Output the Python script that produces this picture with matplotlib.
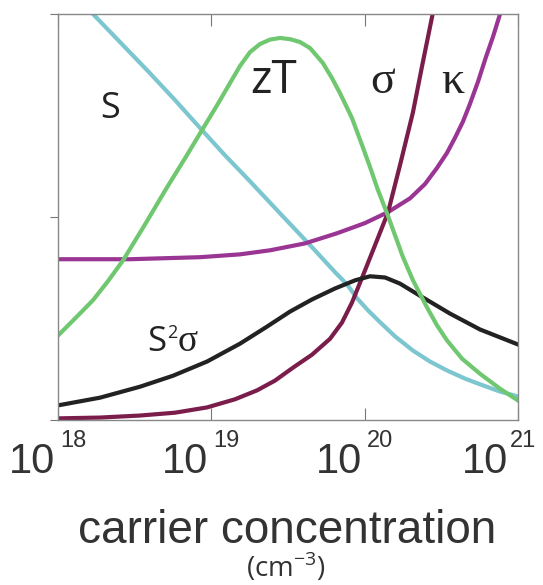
import numpy as np
import matplotlib.pyplot as plt
from matplotlib.transforms import ScaledTranslation

# thermoelectric trends vs carrier concentration (log10 n, normalized value)
S_logn = [18.228, 18.404, 18.600, 18.763, 18.939, 19.089, 19.252, 19.448,
          19.663, 19.807, 19.885, 19.950, 20.022, 20.100, 20.198, 20.315,
          20.426, 20.537, 20.654, 20.752, 20.883, 21.000]
S_val = [1.000, 0.931, 0.854, 0.788, 0.714, 0.652, 0.588, 0.509,
         0.423, 0.364, 0.334, 0.300, 0.270, 0.241, 0.206, 0.171,
         0.144, 0.122, 0.102, 0.088, 0.070, 0.058]

zT_logn = [18.000, 18.111, 18.228, 18.326, 18.424, 18.568, 18.711, 18.829,
           18.939, 19.037, 19.122, 19.187, 19.252, 19.317, 19.383, 19.448,
           19.513, 19.578, 19.644, 19.728, 19.787, 19.839, 19.917, 19.983,
           20.035, 20.087, 20.146, 20.198, 20.250, 20.315, 20.407, 20.472,
           20.537, 20.635, 20.752, 20.883, 21.000]
zT_val = [0.208, 0.250, 0.295, 0.342, 0.393, 0.482, 0.573, 0.645,
          0.714, 0.775, 0.830, 0.872, 0.906, 0.926, 0.937, 0.941,
          0.938, 0.931, 0.916, 0.879, 0.842, 0.805, 0.744, 0.677,
          0.623, 0.566, 0.509, 0.455, 0.401, 0.344, 0.277, 0.233,
          0.196, 0.151, 0.114, 0.077, 0.048]

sigma_logn = [18.000, 18.274, 18.535, 18.763, 18.972, 19.154, 19.298, 19.415,
              19.533, 19.657, 19.774, 19.852, 19.917, 19.989, 20.067, 20.152,
              20.230, 20.315, 20.374, 20.446]
sigma_val = [0.004, 0.006, 0.011, 0.018, 0.031, 0.051, 0.073, 0.097,
             0.129, 0.161, 0.200, 0.240, 0.289, 0.356, 0.430, 0.511,
             0.627, 0.758, 0.871, 1.005]

kappa_logn = [18.000, 18.470, 18.926, 19.187, 19.383, 19.611, 19.820, 20.002,
              20.152, 20.296, 20.393, 20.472, 20.537, 20.589, 20.641, 20.687,
              20.739, 20.791, 20.837, 20.883]
kappa_val = [0.396, 0.396, 0.401, 0.408, 0.418, 0.435, 0.460, 0.485,
             0.512, 0.546, 0.581, 0.621, 0.658, 0.695, 0.735, 0.779,
             0.833, 0.894, 0.944, 1.000]

pf_logn = [18.000, 18.274, 18.535, 18.750, 18.972, 19.187, 19.363, 19.513,
           19.657, 19.807, 19.937, 20.035, 20.133, 20.230, 20.361, 20.557,
           20.752, 21.000]
pf_val = [0.036, 0.055, 0.082, 0.109, 0.144, 0.188, 0.230, 0.267,
          0.297, 0.324, 0.344, 0.354, 0.351, 0.336, 0.306, 0.262,
          0.223, 0.186]

tick_exp = [18, 19, 20, 21]
tick_exp_labels = ['18', '19', '20', '21']

fig = plt.figure(figsize=(5.43, 5.85), dpi=100)
ax = fig.add_axes([58 / 543, 165 / 585, 460 / 543, 406 / 585])

lw = 3
ax.plot(10.0 ** np.array(S_logn), S_val, color='#7cc6cf', lw=lw)
ax.plot(10.0 ** np.array(kappa_logn), kappa_val, color='#9a3594', lw=lw)
ax.plot(10.0 ** np.array(sigma_logn), sigma_val, color='#7b1d4b', lw=lw)
ax.plot(10.0 ** np.array(pf_logn), pf_val, color='#222222', lw=lw)
ax.plot(10.0 ** np.array(zT_logn), zT_val, color='#6fc86f', lw=lw)

ax.set_xscale('log')
ax.set_xlim(1e18, 1e21)
ax.set_ylim(0, 1)
for sp in ax.spines.values():
    sp.set_color('#888888')
    sp.set_linewidth(1)

ticks = [10.0 ** e for e in tick_exp]
ax.set_xticks(ticks)
ax.xaxis.set_minor_locator(plt.NullLocator())
ax.set_xticklabels(['10'] * len(ticks), fontsize=30, family='Liberation Sans',
                   color='#333333', ha='right')
ax.tick_params(axis='x', which='major', direction='in', length=8.5, top=True,
               pad=15.5, color='#777777')
ax.set_yticks([0, 0.5, 1])
ax.set_yticklabels([])
ax.tick_params(axis='y', direction='out', length=6, color='#777777')

# shift the "10" parts; the last one sits a little further left
for i, lab in enumerate(ax.get_xticklabels()):
    dx = -3 if i < len(ticks) - 1 else -10
    lab.set_transform(lab.get_transform() + ScaledTranslation(dx / 100, 0, fig.dpi_scale_trans))

for t, e in zip(ticks, tick_exp_labels):
    dx = 1.5 if t < ticks[-1] else -5.5
    ax.annotate(e, xy=(t, 0), xycoords=('data', 'axes fraction'),
                xytext=(dx, -7.2), textcoords='offset points',
                ha='left', va='top', fontsize=17, family='Liberation Sans',
                color='#333333')

ax.set_xlabel('carrier concentration', fontsize=33, family='Liberation Sans',
              color='#333333', va='baseline')
ax.xaxis.set_label_coords(0.498, -(543 - 420) / 406)
fig.text(286 / 543, (585 - 577) / 585, r'(cm$^{\mathregular{-3}}$)',
         fontsize=20, family='Open Sans', color='#333333',
         ha='center', va='baseline')

# curve labels
ax.text(10 ** 18.339, 0.743, 'S', fontsize=26, family='Open Sans',
        color='#222222', ha='center', va='baseline')
ax.text(10 ** 19.409, 0.805, 'zT', fontsize=33, family='Open Sans',
        color='#222222', ha='center', va='baseline')
ax.text(10 ** 20.120, 0.805, '\u03c3', fontsize=33, family='Liberation Serif',
        color='#222222', ha='center', va='baseline')
ax.text(10 ** 20.576, 0.805, '\u03ba', fontsize=33, family='Liberation Serif',
        color='#222222', ha='center', va='baseline')

pf_anchor = (10 ** 18.580, 0.171)
ax.annotate('S', xy=pf_anchor, fontsize=25, family='Open Sans',
            color='#222222', ha='left', va='baseline')
ax.annotate('2', xy=pf_anchor, xytext=(14.5, 9), textcoords='offset points',
            fontsize=13, family='Open Sans', color='#222222',
            ha='left', va='baseline')
ax.annotate('\u03c3', xy=pf_anchor, xytext=(22, 0), textcoords='offset points',
            fontsize=27, family='Liberation Serif', color='#222222',
            ha='left', va='baseline')

fig.savefig('out.png', dpi=100, facecolor='white')
